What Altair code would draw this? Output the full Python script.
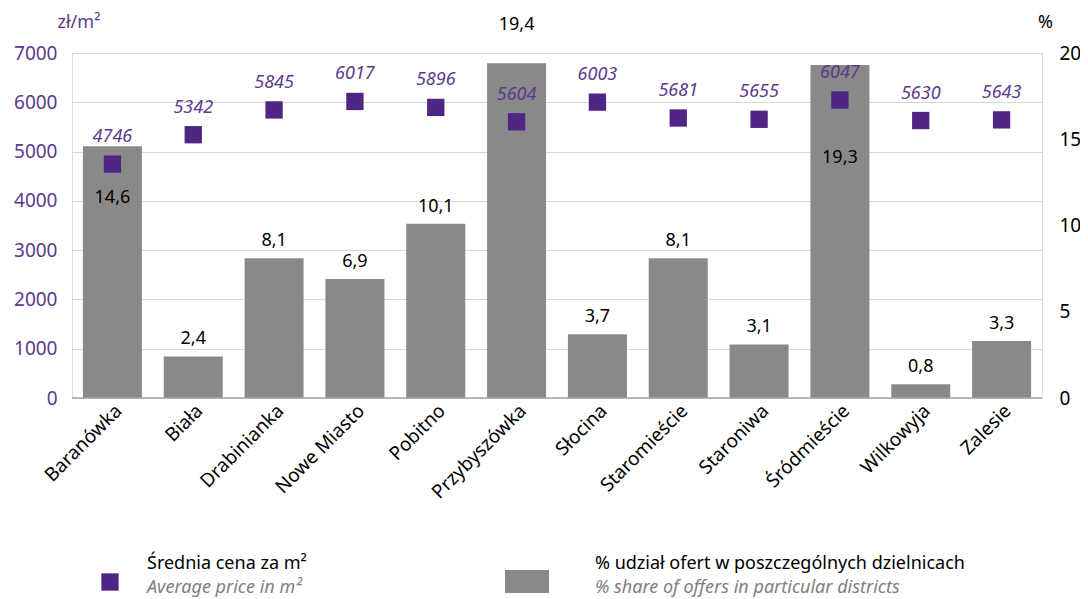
import altair as alt
import pandas as pd

districts = ["Baranówka", "Biała", "Drabinianka", "Nowe Miasto", "Pobitno", "Przybyszówka",
             "Słocina", "Staromieście", "Staroniwa", "Śródmieście", "Wilkowyja", "Zalesie"]
share = [14.6, 2.4, 8.1, 6.9, 10.1, 19.4, 3.7, 8.1, 3.1, 19.3, 0.8, 3.3]
price = [4746, 5342, 5845, 6017, 5896, 5604, 6003, 5681, 5655, 6047, 5630, 5643]

df = pd.DataFrame({"cat": districts, "share": share, "price": price})

FONT = "Noto Sans"
PURPLE = "#4F2683"
PURPLE_TXT = "#5B3A8E"
GRAY = "#898989"

base = alt.Chart(df)
xenc = alt.X("cat:N", sort=districts, title=None,
             scale=alt.Scale(paddingInner=0.27, paddingOuter=0.135),
             axis=alt.Axis(labelAngle=315, labelAlign="right", labelBaseline="top",
                           labelFontSize=19, labelColor="#000", labelPadding=3,
                           ticks=False, domain=False, labelFont=FONT))

yshare = alt.Y("share:Q", scale=alt.Scale(domain=[0, 20]),
               axis=alt.Axis(orient="right", values=[0, 5, 10, 15, 20], grid=False,
                             ticks=False, domain=False, labelFontSize=19, labelColor="#000",
                             labelPadding=17, labelFont=FONT,
                             title="%", titleAngle=0, titleX=3, titleY=-31,
                             titleAlign="center", titleBaseline="middle",
                             titleFontSize=18, titleFontWeight="normal", titleColor="#000",
                             titleFont=FONT))

bars = base.mark_bar(color=GRAY).encode(x=xenc, y=yshare)

bar_labels = base.transform_calculate(
    label="replace(format(datum.share, '.1f'), '.', ',')",
    ly="datum.cat == 'Baranówka' ? 11.6 : datum.cat == 'Śródmieście' ? 13.9 : "
       "datum.cat == 'Przybyszówka' ? datum.share + 2.2 : datum.share + 1.0"
).mark_text(fontSize=18, font=FONT, color="#000", baseline="middle").encode(
    x=alt.X("cat:N", sort=districts),
    y=alt.Y("ly:Q"),
    text="label:N")

share_layer = alt.layer(bars, bar_labels)

yprice = alt.Y("price:Q", scale=alt.Scale(domain=[0, 7000]),
               axis=alt.Axis(orient="left", values=list(range(0, 7001, 1000)), format="d",
                             grid=True, gridColor="#d9d9d9", gridWidth=1,
                             ticks=False, domain=False, labelFontSize=19,
                             labelColor=PURPLE_TXT, labelPadding=15, labelFont=FONT,
                             title="zł/m²", titleAngle=0, titleX=-15, titleY=-31,
                             titleAlign="left", titleBaseline="middle",
                             titleFontSize=18, titleFontWeight="normal",
                             titleColor=PURPLE_TXT, titleFont=FONT))

squares = base.mark_square(size=300, color=PURPLE, opacity=1).encode(
    x=alt.X("cat:N", sort=districts), y=yprice)

price_labels = base.mark_text(fontSize=18, font=FONT, fontStyle="italic", fontWeight="normal",
                              color=PURPLE_TXT, dy=-27, baseline="middle").encode(
    x=alt.X("cat:N", sort=districts), y=alt.Y("price:Q"),
    text=alt.Text("price:Q", format="d"))

price_layer = alt.layer(squares, price_labels)

one = alt.Data(values=[{}])
baseline_rule = alt.Chart(one).mark_rule(color="#a6a6a6", strokeWidth=1.5).encode(
    x=alt.value(0), x2=alt.value(970), y=alt.value(345))

leg_sq = alt.Chart(one).mark_square(size=300, color=PURPLE, opacity=1).encode(
    x=alt.value(38), y=alt.value(529))
leg_rect = alt.Chart(one).mark_rect(color=GRAY).encode(
    x=alt.value(433), x2=alt.value(477), y=alt.value(517), y2=alt.value(540))
leg_t1 = alt.Chart(one).mark_text(text="Średnia cena za m²", fontSize=18, font=FONT,
                                  color="#000", align="left", baseline="middle").encode(
    x=alt.value(75), y=alt.value(511))
leg_t2 = alt.Chart(one).mark_text(text="Average price in m²", fontSize=18, font=FONT,
                                  fontStyle="italic", color="#808080", align="left",
                                  baseline="middle").encode(x=alt.value(75), y=alt.value(535))
leg_t3 = alt.Chart(one).mark_text(text="% udział ofert w poszczególnych dzielnicach",
                                  fontSize=18, font=FONT, color="#000", align="left",
                                  baseline="middle").encode(x=alt.value(523), y=alt.value(511))
leg_t4 = alt.Chart(one).mark_text(text="% share of offers in particular districts",
                                  fontSize=18, font=FONT, fontStyle="italic", color="#808080",
                                  align="left", baseline="middle").encode(
    x=alt.value(523), y=alt.value(535))

chart = alt.layer(
    share_layer, price_layer, baseline_rule,
    leg_sq, leg_rect, leg_t1, leg_t2, leg_t3, leg_t4
).resolve_scale(y="independent").properties(
    width=970, height=345,
    autosize=alt.AutoSizeParams(type="none"),
    padding={"left": 64, "top": 45, "right": 38, "bottom": 200},
).configure_view(stroke=None).configure(background="white")

chart.save("out.html", embed_options={"renderer": "svg", "actions": False})
